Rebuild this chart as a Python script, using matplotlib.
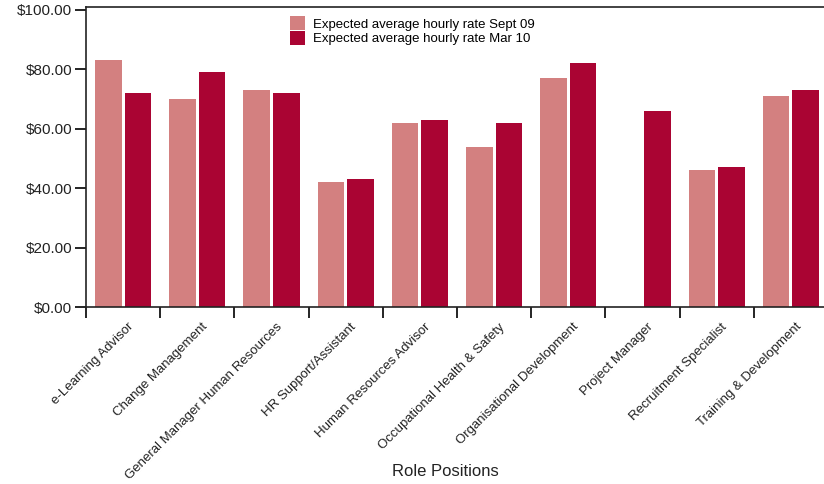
import numpy as np
import matplotlib
matplotlib.use('Agg')
import matplotlib.pyplot as plt
import matplotlib.transforms as mtransforms

plt.rcParams['font.family'] = ['Liberation Sans', 'DejaVu Sans']

# Chart data
roles = ['e-Learning Advisor', 'Change Management', 'General Manager Human Resources',
         'HR Support/Assistant', 'Human Resources Advisor', 'Occupational Health & Safety',
         'Organisational Development', 'Project Manager', 'Recruitment Specialist',
         'Training & Development']
rate_sept09 = [83, 70, 73, 42, 62, 54, 77, 0, 46, 71]
rate_mar10 = [72, 79, 72, 43, 63, 62, 82, 66, 47, 73]
series_names = ['Expected average hourly rate Sept 09', 'Expected average hourly rate Mar 10']
y_ticks = [0, 20, 40, 60, 80, 100]

col_sept = '#d38080'
col_mar = '#aa0433'

fig = plt.figure(figsize=(8.24, 4.84), dpi=100)
ax = fig.add_axes([86 / 824, 1 - 307 / 484, 742 / 824, 300 / 484])

x = np.arange(len(roles))
w = 0.36
ax.bar(x - 0.2, rate_sept09, width=w, color=col_sept, label=series_names[0])
ax.bar(x + 0.2, rate_mar10, width=w, color=col_mar, label=series_names[1])

ax.set_xlim(-0.5, len(roles) - 0.5)
ax.set_ylim(0, 101)
ax.set_yticks(y_ticks)
ax.set_yticklabels(['${:.2f}'.format(v) for v in y_ticks], fontsize=11, color='#222222')

# ticks at category boundaries, labels at centers
ax.set_xticks(np.arange(len(roles) + 1) - 0.5)
ax.set_xticklabels([])
ax.set_xticks(x, minor=True)
ax.set_xticklabels(roles, minor=True, rotation=45, ha='right', rotation_mode='anchor',
                   fontsize=9.5, color='#222222')
ax.tick_params(axis='x', which='minor', length=0, pad=10)
ax.tick_params(axis='x', which='major', length=8, width=1.2, direction='out')
ax.tick_params(axis='y', length=8, width=1.2, direction='out', pad=2)
offset = mtransforms.ScaledTranslation(3 / 72, 0, fig.dpi_scale_trans)
for lbl in ax.get_xticklabels(minor=True):
    lbl.set_transform(lbl.get_transform() + offset)

for s in ['left', 'bottom', 'top']:
    ax.spines[s].set_linewidth(1.2)
    ax.spines[s].set_color('#222222')
ax.spines['right'].set_visible(False)

ax.set_xlabel('Role Positions', fontsize=12, color='#222222')
ax.xaxis.set_label_coords(0.485, -0.525)

leg = ax.legend(loc='upper left', bbox_to_anchor=(0.262, 1.0), frameon=False, fontsize=9.5,
                handlelength=1.2, handleheight=1.25, handletextpad=0.55, labelspacing=0.0,
                borderaxespad=0.3)

fig.savefig('out.png', dpi=100)
